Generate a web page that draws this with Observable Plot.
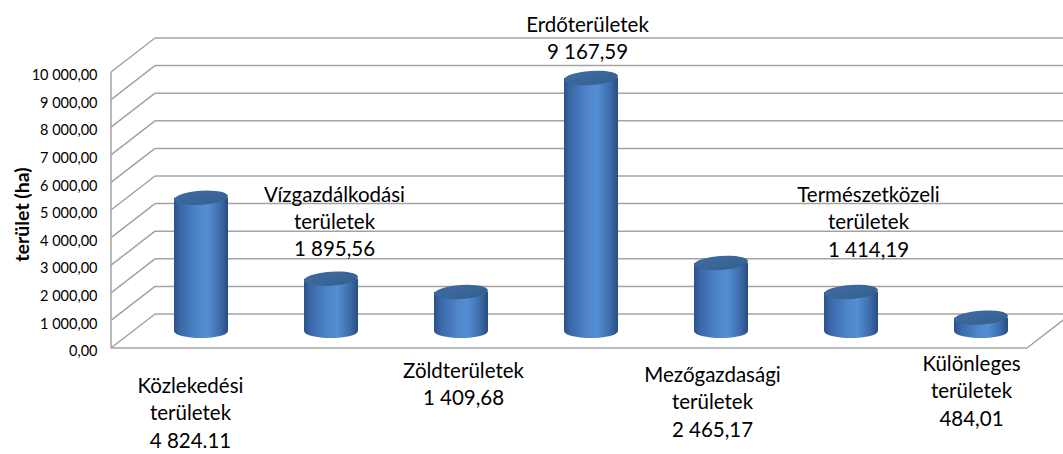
<!DOCTYPE html>
<html><head><meta charset="utf-8">
<script src="https://cdn.jsdelivr.net/npm/d3@7"></script>
<script src="https://cdn.jsdelivr.net/npm/@observablehq/plot@0.6"></script>
<style>
  body { margin: 0; background: #fff; }
  #chart svg { font-family: Lato, "DejaVu Sans", sans-serif; background: #fff; }
</style>
</head><body><div id="chart"></div>
<script>
// ---- data ----
const categories = [
  "Közlekedési területek", "Vízgazdálkodási területek", "Zöldterületek",
  "Erdőterületek", "Mezőgazdasági területek", "Természetközeli területek", "Különleges területek"
];
const labelNames = [
  "Közlekedési\nterületek", "Vízgazdálkodási\nterületek", "Zöldterületek",
  "Erdőterületek", "Mezőgazdasági\nterületek", "Természetközeli\nterületek", "Különleges\nterületek"
];
const areas = [4824.11, 1895.56, 1409.68, 9167.59, 2465.17, 1414.19, 484.01];
const valueLabels = ["4 824.11", "1 895,56", "1 409,68", "9 167,59", "2 465,17", "1 414,19", "484,01"];
const yTicks = [0, 1000, 2000, 3000, 4000, 5000, 6000, 7000, 8000, 9000, 10000];
const yTickLabels = ["0,00", "1 000,00", "2 000,00", "3 000,00", "4 000,00", "5 000,00",
  "6 000,00", "7 000,00", "8 000,00", "9 000,00", "10 000,00"];
const yTitle = "terület (ha)";

// ---- layout (presentation only) ----
const DX = 44, DY = -34;         // 3D depth offset of the back wall
const RX = 27, RY = 7;           // cylinder radius / ellipse half-height
// label placement: anchored at floor ("below") or bar top ("above"), pixel offsets
const labelLayout = [
  {side: "below", dx: 11, dy: 63},
  {side: "above", dx: 25, dy: -76},
  {side: "below", dx: 24, dy: 34},
  {side: "above", dx: 18, dy: -59},
  {side: "below", dx: 13, dy: 52},
  {side: "above", dx: 39, dy: -89},
  {side: "below", dx: 12, dy: 41}
];

const labels = categories.map((c, i) => ({
  cat: c,
  text: labelNames[i] + "\n" + valueLabels[i],
  y: labelLayout[i].side === "below" ? 0 : areas[i],
  dx: labelLayout[i].dx,
  dy: labelLayout[i].dy
}));

function walls(index, scales, values, dims) {
  const {y} = scales;
  const x0 = dims.marginLeft, x1 = dims.width - dims.marginRight;
  const g = d3.create("svg:g").attr("fill", "none").attr("stroke", "#a3a3a3").attr("stroke-width", 1.5);
  for (const t of yTicks) {
    const yy = y(t);
    g.append("line").attr("x1", x0 + DX).attr("x2", x1 + DX).attr("y1", yy + DY).attr("y2", yy + DY);
    g.append("line").attr("x1", x0).attr("x2", x0 + DX).attr("y1", yy).attr("y2", yy + DY);
  }
  const y0 = y(0), yTop = y(10000);
  g.append("line").attr("x1", x0).attr("x2", x0).attr("y1", y0).attr("y2", yTop);
  g.append("line").attr("x1", x0).attr("x2", x1).attr("y1", y0).attr("y2", y0);
  g.append("line").attr("x1", x1).attr("x2", x1 + DX).attr("y1", y0).attr("y2", y0 + DY);
  return g.node();
}

function cylinders(index, scales, values, dims) {
  const {x, y} = scales;
  const bw = x.bandwidth();
  const g = d3.create("svg:g");
  const defs = g.append("defs");
  const body = defs.append("linearGradient").attr("id", "cylBody").attr("x1", 0).attr("x2", 1).attr("y1", 0).attr("y2", 0);
  [[0, "#2b5287"], [0.12, "#3a68a8"], [0.45, "#5087cc"], [0.62, "#558ed3"], [0.85, "#3d6cab"], [1, "#2a4d7e"]]
    .forEach(([o, c]) => body.append("stop").attr("offset", o).attr("stop-color", c));
  const top = defs.append("linearGradient").attr("id", "cylTop").attr("x1", 0).attr("x2", 1).attr("y1", 0).attr("y2", 1);
  [[0, "#3f6ba3"], [1, "#34608f"]].forEach(([o, c]) => top.append("stop").attr("offset", o).attr("stop-color", c));
  categories.forEach((c, i) => {
    const cx = x(c) + bw / 2 + DX / 2;
    const yb = y(0) + DY / 2;
    const yt = y(areas[i]) + DY / 2;
    const cg = g.append("g");
    cg.append("path")
      .attr("d", `M${cx - RX},${yt} L${cx - RX},${yb} A${RX},${RY} 0 0 0 ${cx + RX},${yb} L${cx + RX},${yt} Z`)
      .attr("fill", "url(#cylBody)");
    cg.append("ellipse")
      .attr("cx", cx).attr("cy", yt).attr("rx", RX).attr("ry", RY)
      .attr("transform", `rotate(-4 ${cx} ${yt})`)
      .attr("fill", "url(#cylTop)");
  });
  return g.node();
}

const chart = Plot.plot({
  width: 1063,
  height: 454,
  marginLeft: 111,
  marginRight: 36,
  marginTop: 72,
  marginBottom: 106,
  x: {type: "band", domain: categories, padding: 0, axis: null},
  y: {domain: [0, 10000], axis: null},
  marks: [
    walls,
    cylinders,
    Plot.axisY(yTicks, {
      tickSize: 0, tickPadding: 14, fontSize: 14.5, fill: "#000", dy: 3,
      tickFormat: (d) => yTickLabels[yTicks.indexOf(d)], label: null
    }),
    Plot.text([yTitle], {
      frameAnchor: "left", textAnchor: "middle", text: (d) => d, rotate: -90,
      fontWeight: "bold", fontSize: 19.5, dx: -89, dy: 4, fill: "#000"
    }),
    ...labels.map((l) => Plot.text([l], {
      x: "cat", y: "y", text: "text", dx: l.dx, dy: l.dy,
      fontSize: 20.5, lineHeight: 1.34, lineAnchor: "middle", textAnchor: "middle", fill: "#000"
    }))
  ]
});
document.getElementById("chart").append(chart);
</script>
</body></html>
